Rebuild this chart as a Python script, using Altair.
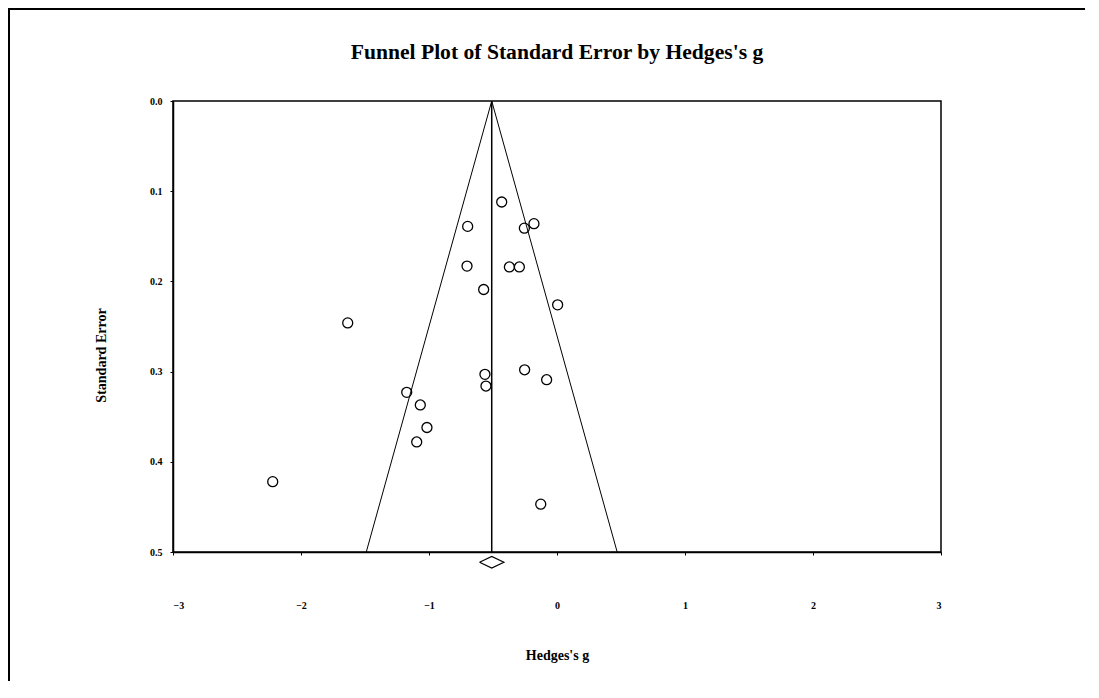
import altair as alt
import pandas as pd

# Study effect sizes (Hedges's g) and standard errors
g = [-0.432, -0.698, -0.255, -0.180, -0.703, -0.372, -0.294, -0.573, 0.005, -1.635,
     -0.253, -0.081, -0.563, -0.555, -1.174, -1.068, -1.016, -1.096, -2.221, -0.127]
se = [0.112, 0.139, 0.141, 0.136, 0.183, 0.184, 0.184, 0.209, 0.226, 0.246,
      0.298, 0.309, 0.303, 0.316, 0.323, 0.337, 0.362, 0.378, 0.422, 0.447]

pooled = -0.51
funnel_g = [-1.49, -0.51, 0.47]
funnel_se = [0.5, 0.0, 0.5]
rule_se = [0.0, 0.5]
diamond_g = [-0.605, -0.51, -0.415, -0.51, -0.605]
diamond_se = [0.5114, 0.505, 0.5114, 0.5177, 0.5114]

x_ticks = [-3, -2, -1, 0, 1, 2, 3]
y_ticks = [0.0, 0.1, 0.2, 0.3, 0.4, 0.5]

FONT = "Liberation Serif"

pts = pd.DataFrame({"g": g, "se": se})
funnel = pd.DataFrame({"g": funnel_g, "se": funnel_se, "i": range(len(funnel_g))})
rule = pd.DataFrame({"g": [pooled, pooled], "se": rule_se, "i": [0, 1]})
diamond = pd.DataFrame({"g": diamond_g, "se": diamond_se, "i": range(len(diamond_g))})

x_axis = alt.Axis(values=x_ticks, format="d", labelPadding=45, tickSize=3,
                  titlePadding=38, grid=False)
y_axis = alt.Axis(values=y_ticks, format=".1f", labelPadding=8, tickSize=3,
                  titlePadding=41, titleY=254, titleAlign="center", grid=False)

def X():
    return alt.X("g:Q", scale=alt.Scale(domain=[-3, 3], nice=False), axis=x_axis,
                 title="Hedges's g")

def Y():
    return alt.Y("se:Q", scale=alt.Scale(domain=[0, 0.5], nice=False, reverse=True, zero=False),
                 axis=y_axis, title="Standard Error")

one = pd.DataFrame({"a": [0]})
border_top = alt.Chart(one).mark_rule(stroke="black", strokeWidth=2).encode(
    x=alt.value(-165), x2=alt.value(912), y=alt.value(-92))
border_left = alt.Chart(one).mark_rule(stroke="black", strokeWidth=2).encode(
    x=alt.value(-164), y=alt.value(-93), y2=alt.value(580))

funnel_line = alt.Chart(funnel).mark_line(color="black", strokeWidth=1).encode(
    x=X(), y=Y(), order="i:Q")

rule_line = alt.Chart(rule).mark_line(color="black", strokeWidth=1.5).encode(
    x=X(), y=Y(), order="i:Q")

diamond_line = alt.Chart(diamond).mark_line(color="black", strokeWidth=1.2).encode(
    x=X(), y=Y(), order="i:Q")

points = alt.Chart(pts).mark_point(shape="circle", filled=False, size=100,
                                   stroke="black", strokeWidth=1.3, opacity=1).encode(
    x=X(), y=Y())

chart = alt.layer(border_top, border_left, funnel_line, rule_line, diamond_line, points).properties(
    width=768, height=451,
    title=alt.TitleParams("Funnel Plot of Standard Error by Hedges's g", font=FONT,
                          fontSize=21.6, fontWeight="bold", anchor="middle", offset=4,
                          dy=61, color="black"),
    autosize=alt.AutoSizeParams(type="none"),
    padding={"left": 165, "top": 93, "right": 150, "bottom": 134},
).configure_view(
    stroke="black", strokeWidth=1.5
).configure_axis(
    labelFont=FONT, labelFontSize=10, labelFontWeight="bold", labelColor="black",
    titleFont=FONT, titleFontSize=14, titleFontWeight="bold", titleColor="black",
    domainColor="black", domainWidth=1.5, tickColor="black", tickWidth=1
)

chart.save("out.html", embed_options={"renderer": "svg", "actions": False})
